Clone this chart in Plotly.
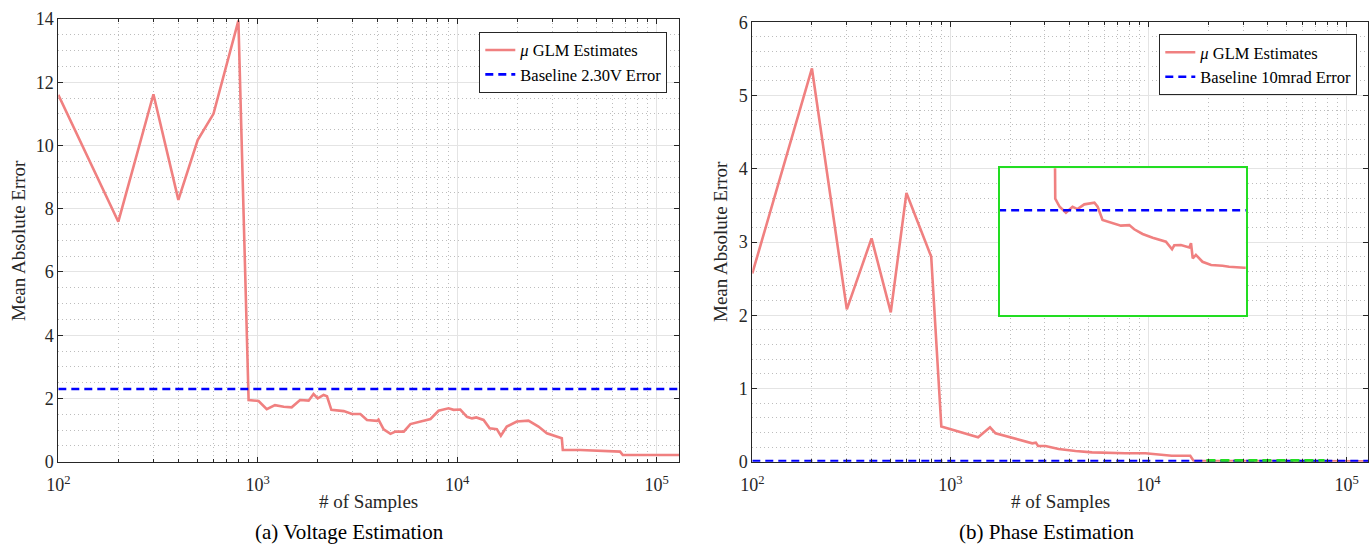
import math
import plotly.graph_objects as go

# ---------------- data ----------------
# (a) Voltage estimation: mean absolute error vs number of samples
volt_samples = [100, 200, 300, 400, 500, 600, 800, 900,
                1010, 1110, 1220, 1350, 1480, 1630, 1800, 1905, 2000, 2140, 2225, 2340,
                2700, 2970, 3270, 3530, 3960, 4030, 4280, 4630, 4900, 5400,
                5830, 6550, 7070, 7350, 8070, 9060, 9600, 10370, 11200, 11870,
                12470, 13570, 14550, 15810, 16560, 17740, 19910, 22780, 25570, 28170,
                33480, 33870, 41400, 65600, 67700, 130000]
volt_mae = [11.6, 7.59, 11.62, 8.28, 10.17, 11.0, 13.95, 1.95,
            1.92, 1.66, 1.79, 1.74, 1.72, 1.95, 1.93, 2.14, 2.0, 2.11, 2.07, 1.64,
            1.6, 1.51, 1.51, 1.32, 1.29, 1.33, 1.02, 0.88, 0.95, 0.95,
            1.19, 1.26, 1.32, 1.35, 1.61, 1.69, 1.64, 1.65, 1.42, 1.37,
            1.4, 1.32, 1.06, 1.03, 0.82, 1.11, 1.27, 1.30, 1.11, 0.90,
            0.74, 0.37, 0.37, 0.32, 0.21, 0.21]
volt_baseline = 2.30          # V
volt_x_span = [100, 130000]

# (b) Phase estimation: mean absolute error vs number of samples
phase_samples = [100, 200, 300, 400, 500, 600, 800, 900, 1380, 1585, 1690, 2010, 2220,
                 2590, 2700, 2770, 3020, 3520, 4280, 5190, 7640, 9640, 13100, 16250,
                 16900, 17500, 18410, 19410, 20180, 21320, 23110, 23710, 24660, 26720,
                 28560, 30540, 31760, 33960, 36810, 40920, 42970, 43740, 46130, 49320,
                 50000, 50700, 52000, 54800, 58700, 64300, 67800, 76400, 130000]
phase_mae = [2.57, 5.37, 2.08, 3.05, 2.04, 3.67, 2.80, 0.48, 0.333, 0.47, 0.388, 0.333, 0.306,
             0.251, 0.26, 0.214, 0.214, 0.173, 0.146, 0.128, 0.115, 0.115, 0.082, 0.082,
             0.0111, 0.01033, 0.00976, 0.01033, 0.01011, 0.01056, 0.01072, 0.01033, 0.00906, 0.00881,
             0.00853, 0.00858, 0.00818, 0.00773, 0.00738, 0.0070, 0.00627, 0.00665, 0.00668, 0.00645,
             0.00685, 0.0054, 0.00573, 0.00508, 0.00477, 0.0047, 0.00461, 0.00451, 0.0045]
phase_baseline = 0.01         # rad (10 mrad)
phase_x_span = [100, 130000]

# zoom region (green) and inset view ranges
zoom_x = [19600, 77400]
zoom_y = [0.012, 0.012]
inset_x_range = [10870, 77400]
inset_y_range = [0, 0.014]

x_tick_vals = [100, 1000, 10000, 100000]
x_tick_text = ["10<sup>2</sup>", "10<sup>3</sup>", "10<sup>4</sup>", "10<sup>5</sup>"]

# ---------------- style ----------------
PINK = "#F08080"
BLUE = "#0000FF"
GREEN = "#22DD22"
AX = "#262626"
FONT = "Liberation Serif"
W, H = 1372, 550

minor_x = [m * 10 ** e for e in range(2, 6) for m in range(2, 10)]

fig = go.Figure()

fig.add_trace(go.Scatter(x=volt_samples, y=volt_mae, mode="lines",
                         line=dict(color=PINK, width=2.6), name="<i>μ</i> GLM Estimates",
                         xaxis="x", yaxis="y", legend="legend"))
fig.add_trace(go.Scatter(x=volt_x_span, y=[volt_baseline] * 2, mode="lines",
                         line=dict(color=BLUE, width=2.6, dash="8px,5px"),
                         name="Baseline 2.30V Error", xaxis="x", yaxis="y", legend="legend"))

fig.add_trace(go.Scatter(x=phase_samples, y=phase_mae, mode="lines",
                         line=dict(color=PINK, width=2.6), name="<i>μ</i> GLM Estimates",
                         xaxis="x2", yaxis="y2", legend="legend2"))
fig.add_trace(go.Scatter(x=phase_x_span, y=[phase_baseline] * 2, mode="lines",
                         line=dict(color=BLUE, width=2.6, dash="8px,5px"),
                         name="Baseline 10mrad Error", xaxis="x2", yaxis="y2", legend="legend2"))
fig.add_trace(go.Scatter(x=zoom_x, y=zoom_y, mode="lines",
                         line=dict(color=GREEN, width=3.5, dash="9px,5px"),
                         showlegend=False, xaxis="x2", yaxis="y2"))

# inset
fig.add_trace(go.Scatter(x=phase_samples, y=phase_mae, mode="lines",
                         line=dict(color=PINK, width=2.6), showlegend=False,
                         xaxis="x3", yaxis="y3"))
fig.add_trace(go.Scatter(x=phase_x_span, y=[phase_baseline] * 2, mode="lines",
                         line=dict(color=BLUE, width=2.6, dash="8px,5px"), showlegend=False,
                         xaxis="x3", yaxis="y3"))

GRID = "#e4e4e4"
MGRID = "#bdbdbd"
MDASH = "1px,3px"


def xax(domain, rng, anchor):
    return dict(type="log", domain=domain, range=rng, anchor=anchor, automargin=False,
                tickmode="array", tickvals=x_tick_vals, ticktext=x_tick_text,
                ticks="inside", ticklen=5, tickcolor=AX, tickwidth=1, ticklabelstandoff=7,
                showline=True, linecolor=AX, linewidth=1, mirror="ticks",
                showgrid=True, gridcolor=GRID, gridwidth=1, zeroline=False,
                tickfont=dict(family=FONT, size=18, color=AX),
                minor=dict(tickmode="array", tickvals=minor_x, ticks="inside", ticklen=3,
                           tickcolor=AX, showgrid=True, gridcolor=MGRID,
                           griddash=MDASH, gridwidth=1))


def yax(domain, rng, dtick, mdtick, anchor):
    return dict(domain=domain, range=rng, anchor=anchor, dtick=dtick, tick0=0, automargin=False,
                ticks="inside", ticklen=5, tickcolor=AX, tickwidth=1,
                showline=True, linecolor=AX, linewidth=1, mirror="ticks",
                showgrid=True, gridcolor=GRID, gridwidth=1, zeroline=False,
                tickfont=dict(family=FONT, size=18, color=AX),
                minor=dict(dtick=mdtick, tick0=0, ticks="", showgrid=True, gridcolor=MGRID,
                           griddash=MDASH, gridwidth=1))


def px(x):
    return x / W


def py(y):
    return 1 - y / H


fig.update_layout(
    width=W, height=H,
    margin=dict(l=0, r=0, t=0, b=0, pad=0, autoexpand=False),
    paper_bgcolor="white", plot_bgcolor="white",
    font=dict(family=FONT, color=AX),
    xaxis=xax([px(58.3), px(679.3)], [2, math.log10(130000)], "y"),
    yaxis=yax([py(461.7), py(19)], [0, 14], 2, 0.5, "x"),
    xaxis2=xax([px(752.3), px(1368)], [2, 5.108], "y2"),
    yaxis2=yax([py(461.7), py(22.3)], [0, 6], 1, 0.2, "x2"),
    xaxis3=dict(type="log", domain=[px(1000), px(1245.7)], automargin=False,
                range=[math.log10(inset_x_range[0]), math.log10(inset_x_range[1])],
                anchor="y3", showgrid=False, showticklabels=False, ticks="",
                showline=True, linecolor=GREEN, linewidth=1.5, mirror=True, zeroline=False),
    yaxis3=dict(domain=[py(315), py(168.3)], range=inset_y_range, anchor="x3", automargin=False,
                showgrid=False, showticklabels=False, ticks="",
                showline=True, linecolor=GREEN, linewidth=1.5, mirror=True, zeroline=False),
    legend=dict(x=px(667.3), y=py(31.7), xanchor="right", yanchor="top",
                bordercolor=AX, borderwidth=1, bgcolor="white",
                font=dict(family=FONT, size=16.5, color="black")),
    legend2=dict(x=px(1357.3), y=py(34), xanchor="right", yanchor="top",
                 bordercolor=AX, borderwidth=1, bgcolor="white",
                 font=dict(family=FONT, size=16.5, color="black")),
)

ann_font = dict(family=FONT, size=19, color=AX)
cap_font = dict(family=FONT, size=21, color="black")


def label(text, x, y, font, angle=0):
    fig.add_annotation(text=text, x=px(x), y=py(y), xref="paper", yref="paper",
                       xanchor="center", yanchor="middle", showarrow=False,
                       font=font, textangle=angle)


label("# of Samples", 369, 501.7, ann_font)
label("# of Samples", 1060.7, 501.7, ann_font)
label("Mean Absolute Error", 18, 241, ann_font, -90)
label("Mean Absolute Error", 721, 242, ann_font, -90)
label("(a) Voltage Estimation", 349.5, 532, cap_font)
label("(b) Phase Estimation", 1046.5, 532, cap_font)

fig.write_html("out.html", config={"displayModeBar": False},
               post_script="document.body.style.margin='0';document.body.style.overflow='hidden';")
